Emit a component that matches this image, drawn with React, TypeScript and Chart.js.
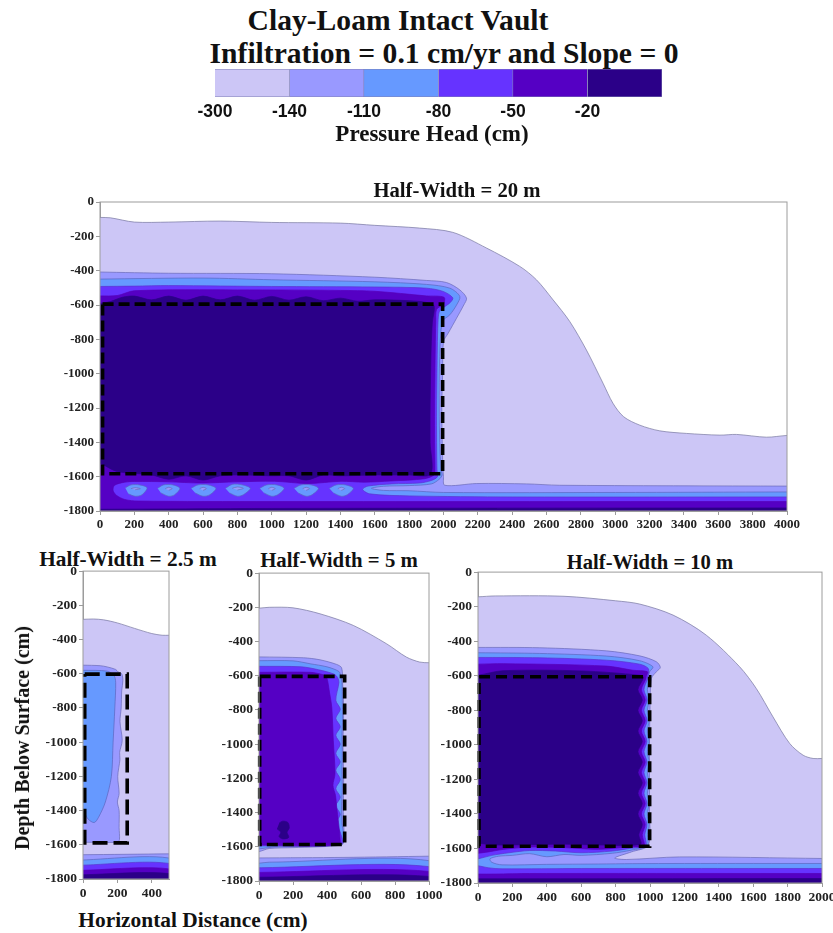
import React, { useEffect, useRef } from "react";
import { Chart, registerables } from "chart.js";

Chart.register(...registerables);

type Pair = [number, number];

const SERIF = "'Liberation Serif', serif";
const SANS = "'Liberation Sans', sans-serif";

const LEVEL_COLORS = ["#CCC6F6", "#9999FF", "#6699FF", "#6633FF", "#5500C4", "#2B0088"];
const LEVEL_LINES = ["#77779f", "#6a6ab8", "#5a66c0", "#5a33d0", "#5500b8", "#2B0088"];
const LEGEND_LABELS = ["-300", "-140", "-110", "-80", "-50", "-20"];
const LEGEND_SPANS = [1, 1, 1, 1, 1, 1];

/* ---------- Half-Width = 20 m ---------- */
const M_300: Pair[] = [[0,-90],[60,-92],[200,-117],[400,-117],[700,-111],[1000,-119],[1400,-123],[1600,-136],[1861,-152],[2055,-177],[2250,-268],[2444,-375],[2541,-453],[2638,-570],[2735,-696],[2832,-862],[2929,-1056],[2987,-1173],[3049,-1251],[3143,-1300],[3259,-1333],[3414,-1348],[3609,-1358],[3706,-1354],[3880,-1370],[4000,-1360],[4100,-1360],[4100,-1900],[-100,-1900],[-100,-90]];
const M_140: Pair[] = [[0,-408],[400,-415],[1000,-418],[1600,-438],[1900,-457],[2017,-469],[2095,-512],[2134,-560],[2118,-600],[2076,-677],[2027,-765],[2000,-813],[1995,-1000],[1990,-1200],[1995,-1500],[2000,-1600],[2007,-1650],[2191,-1640],[2482,-1642],[2676,-1650],[4000,-1655],[4100,-1655],[4100,-1900],[-100,-1900],[-100,-408]];
const M_110: Pair[] = [[0,-449],[600,-443],[1000,-453],[1600,-465],[1900,-480],[2037,-502],[2095,-550],[2076,-600],[2037,-657],[1994,-696],[1978,-900],[1975,-1200],[1978,-1400],[1985,-1560],[1992,-1590],[1975,-1615],[1930,-1642],[1800,-1652],[1650,-1656],[1580,-1668],[1650,-1680],[1800,-1682],[2000,-1692],[3000,-1692],[4000,-1689],[4100,-1689],[4100,-1900],[-100,-1900],[-100,-449]];
const M_80: Pair[] = [[0,-492],[200,-490],[400,-487],[1000,-492],[1600,-495],[1900,-502],[1998,-521],[2054,-558],[2040,-585],[1997,-617],[1975,-640],[1968,-700],[1964,-850],[1962,-1000],[1960,-1200],[1960,-1400],[1962,-1560],[1965,-1600],[1930,-1622],[1860,-1637],[1700,-1642],[1560,-1655],[1529,-1674],[1570,-1700],[1800,-1712],[2400,-1718],[4000,-1718],[4100,-1718],[4100,-1900],[-100,-1900],[-100,-492]];
const M_50: Pair[] = [[0,-547],[100,-545],[200,-517],[800,-512],[1400,-515],[1600,-520],[1900,-547],[2003,-555],[2000,-595],[1960,-625],[1955,-700],[1952,-850],[1950,-1000],[1948,-1200],[1948,-1400],[1950,-1560],[1945,-1590],[1888,-1612],[1694,-1625],[1538,-1632],[1403,-1627],[1211,-1640],[1017,-1627],[800,-1630],[590,-1637],[396,-1630],[202,-1628],[144,-1632],[85,-1650],[76,-1679],[95,-1708],[144,-1733],[222,-1742],[1000,-1745],[4000,-1745],[4100,-1745],[4100,-1900],[-100,-1900],[-100,-547]];
const M_20: Pair[] = [[-60,-590],[0,-590],[60,-580],[130,-555],[200,-548],[300,-570],[400,-548],[500,-572],[600,-548],[700,-570],[800,-548],[900,-572],[1000,-550],[1100,-572],[1200,-552],[1300,-575],[1400,-560],[1500,-578],[1600,-570],[1800,-575],[1900,-585],[1945,-605],[1935,-700],[1928,-850],[1925,-1000],[1922,-1200],[1922,-1400],[1925,-1585],[1800,-1590],[1600,-1590],[1400,-1595],[1300,-1590],[1200,-1620],[1100,-1595],[1000,-1595],[800,-1590],[700,-1595],[600,-1620],[500,-1595],[400,-1615],[300,-1590],[100,-1570],[0,-1523],[-60,-1523]];
const M_20_FLOOR: Pair[] = [[-100,-1790],[0,-1790],[1000,-1785],[4000,-1782],[4100,-1782],[4100,-1900],[-100,-1900]];
const M_ISLAND_A: Pair[] = [[147,-1665],[180,-1648],[230,-1648],[274,-1665],[245,-1705],[205,-1714],[165,-1700]];
const M_ISLAND_B: Pair[] = [[335,-1668],[370,-1648],[425,-1648],[465,-1668],[435,-1705],[400,-1714],[355,-1695]];
const M_ISLAND_C: Pair[] = [[530,-1668],[570,-1648],[630,-1648],[675,-1668],[640,-1705],[600,-1714],[555,-1695]];
const M_ISLAND_D: Pair[] = [[730,-1668],[770,-1645],[830,-1648],[875,-1668],[835,-1705],[800,-1714],[755,-1695]];
const M_ISLAND_E: Pair[] = [[930,-1668],[970,-1648],[1030,-1648],[1072,-1668],[1035,-1705],[1000,-1714],[955,-1695]];
const M_ISLAND_F: Pair[] = [[1130,-1668],[1170,-1648],[1230,-1648],[1272,-1668],[1235,-1705],[1200,-1714],[1155,-1695]];
const M_ISLAND_G: Pair[] = [[1335,-1668],[1375,-1648],[1430,-1648],[1475,-1668],[1440,-1705],[1405,-1714],[1360,-1695]];
const M_CORE_A: Pair[] = [[180,-1670],[205,-1664],[235,-1670],[205,-1676]];
const M_CORE_B: Pair[] = [[380,-1670],[400,-1662],[420,-1670],[400,-1680]];
const M_CORE_C: Pair[] = [[580,-1670],[600,-1662],[620,-1670],[600,-1680]];
const M_CORE_D: Pair[] = [[770,-1668],[800,-1660],[835,-1668],[800,-1678]];
const M_CORE_E: Pair[] = [[980,-1670],[1000,-1662],[1020,-1670],[1000,-1680]];
const M_CORE_F: Pair[] = [[1180,-1670],[1200,-1662],[1220,-1670],[1200,-1680]];
const M_CORE_G: Pair[] = [[1385,-1670],[1405,-1662],[1425,-1670],[1405,-1680]];
const M_VAULT: Pair[] = [[15,-595],[1995,-595],[1995,-1583],[15,-1583],[15,-595]];

/* ---------- Half-Width = 2.5 m ---------- */
const A_300: Pair[] = [[-50,-282],[0,-282],[60,-280],[120,-285],[200,-303],[300,-335],[400,-365],[460,-375],[500,-375],[550,-375],[550,-1900],[-50,-1900]];
const A_140: Pair[] = [[-50,-550],[0,-550],[100,-553],[140,-560],[190,-575],[205,-590],[225,-600],[232,-640],[225,-700],[222,-800],[215,-880],[228,-990],[213,-1060],[215,-1100],[202,-1200],[210,-1300],[200,-1350],[210,-1400],[210,-1500],[212,-1570],[200,-1585],[0,-1585],[-50,-1585]];
const A_110: Pair[] = [[-50,-580],[0,-580],[140,-585],[180,-610],[190,-650],[185,-800],[175,-1000],[165,-1200],[130,-1350],[90,-1440],[65,-1470],[30,-1450],[0,-1400],[-50,-1350]];
const A_FLOOR_140: Pair[] = [[-50,-1658],[0,-1658],[500,-1653],[550,-1653],[550,-1900],[-50,-1900]];
const A_FLOOR_110: Pair[] = [[-50,-1690],[550,-1690],[550,-1900],[-50,-1900]];
const A_FLOOR_80: Pair[] = [[-50,-1720],[550,-1720],[550,-1900],[-50,-1900]];
const A_FLOOR_50: Pair[] = [[-50,-1750],[550,-1750],[550,-1900],[-50,-1900]];
const A_FLOOR_20: Pair[] = [[-50,-1776],[550,-1776],[550,-1900],[-50,-1900]];
const A_VAULT: Pair[] = [[10,-602],[257,-602],[257,-1589],[10,-1589],[10,-602]];

/* ---------- Half-Width = 5 m ---------- */
const B_300: Pair[] = [[-50,-205],[0,-205],[60,-200],[200,-203],[359,-238],[555,-306],[750,-413],[867,-491],[945,-520],[1000,-524],[1050,-524],[1050,-1900],[-50,-1900]];
const B_140: Pair[] = [[-50,-490],[0,-490],[262,-495],[359,-507],[457,-534],[486,-554],[492,-640],[498,-800],[494,-1000],[498,-1200],[496,-1400],[500,-1563],[486,-1590],[200,-1605],[60,-1610],[0,-1628],[-50,-1628]];
const B_110: Pair[] = [[-50,-512],[0,-512],[200,-513],[301,-530],[400,-548],[470,-575],[480,-600],[488,-640],[490,-744],[492,-849],[488,-948],[490,-1054],[488,-1153],[490,-1260],[486,-1360],[488,-1460],[490,-1580],[100,-1600],[0,-1612],[-50,-1612]];
const B_80: Pair[] = [[-50,-545],[0,-545],[250,-548],[350,-565],[440,-590],[462,-610],[470,-640],[452,-744],[478,-796],[452,-849],[478,-898],[452,-948],[478,-1000],[452,-1054],[478,-1104],[452,-1153],[478,-1206],[452,-1260],[478,-1310],[452,-1360],[478,-1410],[455,-1460],[480,-1520],[485,-1585],[0,-1595],[-50,-1595]];
const B_50: Pair[] = [[-50,-580],[0,-580],[300,-580],[380,-595],[398,-608],[415,-700],[428,-784],[437,-978],[447,-1173],[435,-1240],[450,-1300],[457,-1368],[476,-1544],[470,-1590],[0,-1590],[-50,-1590]];
const B_20: Pair[] = [[120,-1460],[140,-1450],[170,-1458],[178,-1490],[165,-1515],[175,-1545],[140,-1554],[118,-1540],[128,-1515],[106,-1495]];
const B_FLOOR_140: Pair[] = [[-50,-1665],[0,-1665],[500,-1662],[1000,-1655],[1050,-1655],[1050,-1900],[-50,-1900]];
const B_FLOOR_110: Pair[] = [[-50,-1696],[0,-1696],[60,-1690],[1050,-1690],[1050,-1900],[-50,-1900]];
const B_FLOOR_80: Pair[] = [[-50,-1723],[1050,-1723],[1050,-1900],[-50,-1900]];
const B_FLOOR_50: Pair[] = [[-50,-1750],[1050,-1750],[1050,-1900],[-50,-1900]];
const B_FLOOR_20: Pair[] = [[-50,-1778],[1050,-1778],[1050,-1900],[-50,-1900]];
const B_VAULT: Pair[] = [[4,-604],[504,-604],[504,-1587],[4,-1587],[4,-604]];

/* ---------- Half-Width = 10 m ---------- */
const C_300: Pair[] = [[-50,-143],[0,-143],[100,-138],[500,-140],[800,-166],[940,-185],[1134,-249],[1327,-365],[1521,-548],[1618,-674],[1715,-838],[1812,-992],[1890,-1060],[1948,-1079],[2000,-1079],[2050,-1079],[2050,-1900],[-50,-1900]];
const C_140: Pair[] = [[-50,-436],[0,-436],[359,-438],[746,-456],[940,-485],[1037,-519],[1060,-552],[1037,-577],[1008,-616],[1000,-800],[997,-1000],[997,-1200],[997,-1400],[990,-1581],[892,-1620],[795,-1655],[862,-1664],[1172,-1649],[2000,-1658],[2050,-1658],[2050,-1900],[-50,-1900]];
const C_110: Pair[] = [[-50,-467],[0,-467],[359,-471],[746,-486],[940,-513],[1017,-548],[998,-577],[990,-606],[995,-620],[985,-680],[995,-740],[985,-800],[995,-860],[985,-920],[995,-980],[985,-1040],[995,-1100],[985,-1160],[995,-1220],[985,-1280],[995,-1340],[985,-1400],[995,-1460],[985,-1520],[985,-1585],[890,-1610],[780,-1628],[600,-1640],[500,-1635],[400,-1648],[300,-1630],[200,-1640],[120,-1645],[70,-1660],[80,-1680],[140,-1695],[400,-1692],[700,-1690],[900,-1688],[1200,-1687],[2000,-1687],[2050,-1687],[2050,-1900],[-50,-1900]];
const C_80: Pair[] = [[-50,-494],[0,-494],[359,-496],[746,-510],[940,-533],[990,-558],[990,-600],[985,-620],[965,-680],[983,-740],[965,-800],[983,-860],[965,-920],[982,-980],[965,-1040],[982,-1100],[965,-1160],[982,-1220],[965,-1280],[982,-1340],[965,-1400],[982,-1460],[970,-1520],[975,-1585],[880,-1600],[780,-1615],[600,-1625],[450,-1615],[300,-1612],[180,-1625],[80,-1640],[0,-1660],[-50,-1665],[-50,-1695],[0,-1700],[60,-1712],[140,-1718],[600,-1716],[2000,-1716],[2050,-1716],[2050,-1900],[-50,-1900]];
const C_50: Pair[] = [[-50,-533],[0,-533],[150,-530],[746,-544],[900,-568],[985,-577],[978,-605],[975,-620],[950,-680],[972,-740],[950,-800],[972,-860],[950,-920],[972,-980],[950,-1040],[972,-1100],[950,-1160],[972,-1220],[950,-1280],[972,-1340],[950,-1400],[972,-1460],[955,-1520],[965,-1585],[880,-1590],[700,-1605],[500,-1595],[300,-1592],[150,-1605],[60,-1620],[0,-1628],[-50,-1632],[-50,-1745],[0,-1748],[100,-1748],[300,-1745],[2000,-1745],[2050,-1745],[2050,-1900],[-50,-1900]];
const C_20: Pair[] = [[-50,-597],[0,-597],[145,-571],[600,-572],[940,-597],[962,-610],[930,-680],[955,-740],[930,-800],[955,-860],[930,-920],[955,-980],[930,-1040],[955,-1100],[930,-1160],[955,-1220],[930,-1280],[955,-1340],[930,-1400],[955,-1460],[935,-1520],[945,-1575],[700,-1580],[500,-1575],[300,-1578],[100,-1580],[0,-1570],[-50,-1570]];
const C_FLOOR_20: Pair[] = [[-50,-1776],[0,-1776],[2000,-1774],[2050,-1774],[2050,-1900],[-50,-1900]];
const C_VAULT: Pair[] = [[6,-606],[998,-606],[998,-1587],[6,-1587],[6,-606]];

type Layer = [number, Pair[]];

const PANEL_MAIN: Layer[] = [
  [0, M_300], [1, M_140], [2, M_110], [3, M_80], [4, M_50], [5, M_20], [5, M_20_FLOOR],
  [2, M_ISLAND_A], [2, M_ISLAND_B], [2, M_ISLAND_C], [2, M_ISLAND_D], [2, M_ISLAND_E], [2, M_ISLAND_F], [2, M_ISLAND_G],
  [1, M_CORE_A], [1, M_CORE_B], [1, M_CORE_C], [1, M_CORE_D], [1, M_CORE_E], [1, M_CORE_F], [1, M_CORE_G],
];
const PANEL_A: Layer[] = [
  [0, A_300], [1, A_140], [2, A_110],
  [1, A_FLOOR_140], [2, A_FLOOR_110], [3, A_FLOOR_80], [4, A_FLOOR_50], [5, A_FLOOR_20],
];
const PANEL_B: Layer[] = [
  [0, B_300], [1, B_140], [2, B_110], [3, B_80], [4, B_50], [5, B_20],
  [1, B_FLOOR_140], [2, B_FLOOR_110], [3, B_FLOOR_80], [4, B_FLOOR_50], [5, B_FLOOR_20],
];
const PANEL_C: Layer[] = [
  [0, C_300], [1, C_140], [2, C_110], [3, C_80], [4, C_50], [5, C_20], [5, C_FLOOR_20],
];

const TICK_COLOR = "#222";
const FRAME = "#9c9c9c";

const framePlugin = {
  id: "frame",
  afterDatasetsDraw(chart: any) {
    const { ctx, chartArea: a } = chart;
    ctx.save();
    ctx.strokeStyle = FRAME;
    ctx.lineWidth = 1;
    ctx.strokeRect(a.left, a.top, a.right - a.left, a.bottom - a.top);
    ctx.restore();
  },
};

type PanelProps = {
  layers: Layer[];
  vault: Pair[];
  xMax: number;
  left: number;
  right: number;
  top: number;
  bottom: number;
  dash: number[];
  tickSize: number;
};

const Y_W = 50;
const X_H = 26;
const PAD_T = 10;
const PAD_R = 24;

function Panel({ layers, vault, xMax, left, right, top, bottom, dash, tickSize }: PanelProps) {
  const ref = useRef<HTMLCanvasElement>(null);
  useEffect(() => {
    const toPts = (p: Pair[]) => p.map(([x, y]) => ({ x, y }));
    const font = { family: SERIF, weight: "bold" as const, size: tickSize };
    const fills = layers.map(([lvl, poly]) => ({
      data: toPts(poly),
      showLine: true,
      fill: "shape",
      backgroundColor: LEVEL_COLORS[lvl],
      borderColor: LEVEL_LINES[lvl],
      borderWidth: 0.7,
      pointRadius: 0,
      tension: 0.3,
    }));
    const vaultSet = {
      data: toPts(vault),
      showLine: true,
      fill: false,
      borderColor: "#000",
      borderWidth: 3.6,
      borderDash: dash,
      pointRadius: 0,
      tension: 0,
      clip: false,
    };
    const chart = new Chart(ref.current!, {
      type: "scatter",
      data: { datasets: [vaultSet, ...fills.slice().reverse()] as any },
      plugins: [framePlugin],
      options: {
        animation: false,
        responsive: false,
        events: [],
        elements: { line: { capBezierPoints: false } },
        layout: { padding: { top: PAD_T, right: PAD_R, left: 0, bottom: 0 } },
        plugins: { legend: { display: false }, tooltip: { enabled: false } },
        scales: {
          x: {
            type: "linear",
            min: 0,
            max: xMax,
            afterFit: (s: any) => { s.height = X_H; },
            grid: { drawOnChartArea: false, tickLength: 4, color: FRAME },
            border: { color: FRAME },
            ticks: {
              stepSize: 200,
              includeBounds: false,
              autoSkip: false,
              maxRotation: 0,
              padding: 2,
              font,
              color: TICK_COLOR,
              callback: (v: any) => String(v),
            },
          },
          y: {
            type: "linear",
            min: -1800,
            max: 0,
            afterFit: (s: any) => { s.width = Y_W; },
            grid: { drawOnChartArea: false, tickLength: 4, color: FRAME },
            border: { color: FRAME },
            ticks: {
              stepSize: 200,
              autoSkip: false,
              padding: 2,
              font,
              color: TICK_COLOR,
              callback: (v: any) => String(v),
            },
          },
        },
      } as any,
    });
    return () => chart.destroy();
  }, []);
  return (
    <canvas
      ref={ref}
      width={right - left + Y_W + PAD_R}
      height={bottom - top + PAD_T + X_H}
      style={{ position: "absolute", left: left - Y_W, top: top - PAD_T }}
    />
  );
}

function Legend() {
  const ref = useRef<HTMLCanvasElement>(null);
  useEffect(() => {
    const chart = new Chart(ref.current!, {
      type: "bar",
      data: {
        labels: ["Pressure Head (cm)"],
        datasets: LEGEND_SPANS.map((s, i) => ({
          label: LEGEND_LABELS[i],
          data: [s],
          backgroundColor: LEVEL_COLORS[i],
          borderColor: "#8080b4",
          borderWidth: 0.8,
          barPercentage: 1,
          categoryPercentage: 1,
          stack: "k",
        })),
      },
      options: {
        animation: false,
        responsive: false,
        events: [],
        indexAxis: "y",
        layout: { padding: { left: 30, right: 30, top: 1, bottom: 0 } },
        plugins: { legend: { display: false }, tooltip: { enabled: false } },
        scales: {
          y: { display: false, stacked: true },
          x: {
            stacked: true,
            type: "linear",
            min: 0,
            max: 6,
            afterFit: (s: any) => { s.height = 28; },
            grid: { display: false, drawTicks: false },
            border: { display: false },
            ticks: {
              stepSize: 1,
              autoSkip: false,
              maxRotation: 0,
              padding: 5,
              font: { family: SANS, weight: "bold", size: 17.5 },
              color: "#111",
              callback: (v: any) => LEGEND_LABELS[v] ?? "",
            },
          },
        },
      } as any,
    });
    return () => chart.destroy();
  }, []);
  return (
    <canvas
      ref={ref}
      width={507}
      height={57}
      style={{ position: "absolute", left: 185, top: 68 }}
    />
  );
}

function Text({ x, y, size, rotate, children }: { x: number; y: number; size: number; rotate?: boolean; children: React.ReactNode }) {
  return (
    <div
      style={{
        position: "absolute",
        left: x,
        top: y,
        transform: `translate(-50%, -50%)${rotate ? " rotate(-90deg)" : ""}`,
        fontFamily: SERIF,
        fontWeight: "bold",
        fontSize: size,
        lineHeight: 1,
        whiteSpace: "nowrap",
        color: "#111",
      }}
    >
      {children}
    </div>
  );
}

export default function App() {
  return (
    <div style={{ position: "absolute", left: 0, top: 0, width: 833, height: 933, overflow: "hidden", background: "#fff" }}>
      <Text x={398} y={21} size={29.6}>Clay-Loam Intact Vault</Text>
      <Text x={444} y={54} size={29.6}>Infiltration = 0.1 cm/yr and Slope = 0</Text>
      <Legend />
      <Text x={432} y={133} size={23}>Pressure Head (cm)</Text>

      <Text x={457} y={190} size={20.7}>Half-Width = 20 m</Text>
      <Panel layers={PANEL_MAIN} vault={M_VAULT} xMax={4000} left={100} right={787} top={202} bottom={511} dash={[11, 5]} tickSize={13} />

      <Text x={128} y={560} size={21.3}>Half-Width = 2.5 m</Text>
      <Panel layers={PANEL_A} vault={A_VAULT} xMax={500} left={83} right={169} top={571} bottom={879} dash={[15, 6]} tickSize={13.5} />

      <Text x={339} y={560} size={20.8}>Half-Width = 5 m</Text>
      <Panel layers={PANEL_B} vault={B_VAULT} xMax={1000} left={259} right={429} top={573} bottom={881} dash={[11, 5]} tickSize={13.5} />

      <Text x={650} y={562} size={20.6}>Half-Width = 10 m</Text>
      <Panel layers={PANEL_C} vault={C_VAULT} xMax={2000} left={478} right={822} top={572} bottom={883} dash={[11, 6]} tickSize={13.5} />

      <Text x={22} y={738} size={20} rotate>Depth Below Surface (cm)</Text>
      <Text x={193} y={921} size={21.4}>Horizontal Distance (cm)</Text>
    </div>
  );
}
